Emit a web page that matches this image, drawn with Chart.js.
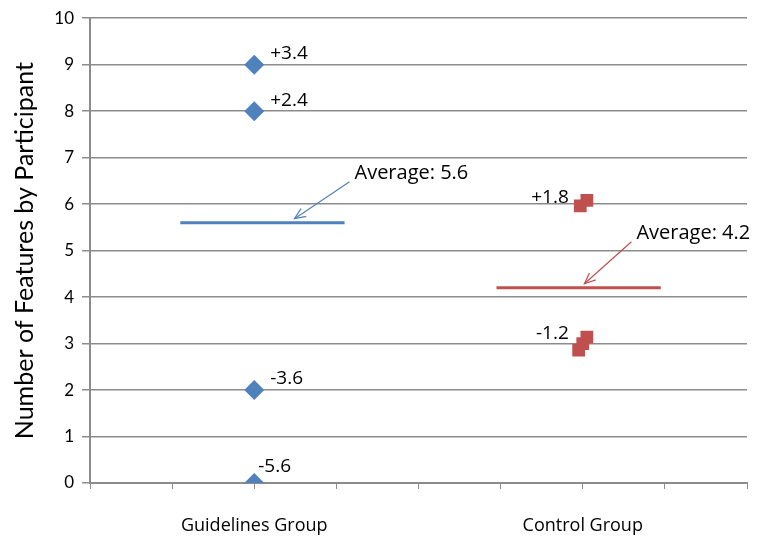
<!DOCTYPE html>
<html>
<head>
<meta charset="utf-8">
<script src="https://cdn.jsdelivr.net/npm/chart.js@4"></script>
<style>
  html, body { margin: 0; padding: 0; background: #fff; }
  #wrap { width: 757px; height: 546px; }
</style>
</head>
<body>
<div id="wrap"><canvas id="chart" width="757" height="546"></canvas></div>
<script>
// categorias y datos
const groupNames = ["Guidelines Group", "Control Group"];
const groupPos = [2, 6];
const averages = [5.6, 4.2];

// puntos de cada grupo (x con un poco de desplazamiento como en el original)
const guidelinesX = [2, 2, 2, 2];
const guidelinesY = [9, 8, 2, 0];
const guidelinesLbl = ["+3.4", "+2.4", "-3.6", "-5.6"];

const controlX = [5.97, 6.05, 5.95, 6.0, 6.05];
const controlY = [5.96, 6.08, 2.86, 3.0, 3.14];
const controlLbl = ["", "+1.8", "", "", "-1.2"];

// tramo de las lineas de promedio (en unidades del eje x)
const avgSpanG = [1.1, 3.1];
const avgSpanC = [4.95, 6.95];

const blue = "#4F81BD";
const red = "#C0504D";
const gray = "#8C8C8C";

// plugin para etiquetas de puntos y flechas de promedio
const notesPlugin = {
  id: "notes",
  afterDatasetsDraw(chart) {
    const ctx = chart.ctx;
    const xs = chart.scales.x, ys = chart.scales.y;
    ctx.save();
    ctx.fillStyle = "#000";
    ctx.font = "19px 'Open Sans'";
    ctx.textBaseline = "middle";

    // etiquetas grupo guias (a la derecha)
    guidelinesY.forEach((v, i) => {
      const px = xs.getPixelForValue(guidelinesX[i]);
      const py = ys.getPixelForValue(v);
      ctx.textAlign = "left";
      if (v === 0) ctx.fillText(guidelinesLbl[i], px + 4, py - 16);
      else ctx.fillText(guidelinesLbl[i], px + 16, py - 11);
    });
    // etiquetas grupo control (a la izquierda)
    controlY.forEach((v, i) => {
      if (!controlLbl[i]) return;
      const px = xs.getPixelForValue(6);
      const py = ys.getPixelForValue(Math.round(v));
      ctx.textAlign = "right";
      ctx.fillText(controlLbl[i], px - 14, v > 5 ? py - 7 : py - 10);
    });

    // flechas y textos de promedio
    const arrows = [
      { avg: averages[0], tipX: 2.49, dx: 55, dy: -37, color: blue },
      { avg: averages[1], tipX: 6.02, dx: 47, dy: -42, color: red },
    ];
    ctx.font = "20px 'Open Sans'";
    arrows.forEach((a) => {
      const tx = xs.getPixelForValue(a.tipX);
      const ty = ys.getPixelForValue(a.avg) - 4;
      const sx = tx + a.dx, sy = ty + a.dy;
      ctx.strokeStyle = a.color;
      ctx.lineWidth = 1.2;
      ctx.beginPath();
      ctx.moveTo(sx, sy);
      ctx.lineTo(tx, ty);
      ctx.stroke();
      const ang = Math.atan2(ty - sy, tx - sx);
      const L = 12;
      ctx.beginPath();
      ctx.moveTo(tx - L * Math.cos(ang - 0.4), ty - L * Math.sin(ang - 0.4));
      ctx.lineTo(tx, ty);
      ctx.lineTo(tx - L * Math.cos(ang + 0.4), ty - L * Math.sin(ang + 0.4));
      ctx.stroke();
      ctx.fillStyle = "#000";
      ctx.textAlign = "left";
      ctx.fillText("Average: " + a.avg.toFixed(1), sx + 5, sy - 8);
    });
    ctx.restore();
  },
};

const ctx = document.getElementById("chart").getContext("2d");

new Chart(ctx, {
  type: "scatter",
  data: {
    datasets: [
      {
        label: "Guidelines",
        data: guidelinesY.map((v, i) => ({ x: guidelinesX[i], y: v })),
        pointStyle: "rectRot",
        pointRadius: 10,
        backgroundColor: blue,
        borderColor: blue,
        borderWidth: 0,
      },
      {
        label: "Control",
        data: controlY.map((v, i) => ({ x: controlX[i], y: v })),
        pointStyle: "rect",
        pointRadius: 9,
        backgroundColor: red,
        borderColor: red,
        borderWidth: 0,
      },
      {
        label: "Avg Guidelines",
        type: "line",
        data: avgSpanG.map((x) => ({ x: x, y: averages[0] })),
        borderColor: blue,
        borderWidth: 3,
        pointRadius: 0,
      },
      {
        label: "Avg Control",
        type: "line",
        data: avgSpanC.map((x) => ({ x: x, y: averages[1] })),
        borderColor: red,
        borderWidth: 3,
        pointRadius: 0,
      },
    ],
  },
  options: {
    responsive: false,
    animation: false,
    layout: { padding: { top: 10, right: 9, left: 10, bottom: 0 } },
    plugins: {
      legend: { display: false },
      tooltip: { enabled: false },
    },
    scales: {
      x: {
        type: "linear",
        min: 0,
        max: 8,
        afterFit(scale) {
          scale.height = 63;
          scale.paddingLeft = 0;
          scale.paddingRight = 0;
        },
        grid: { drawOnChartArea: false, drawTicks: true, tickLength: 6, color: gray },
        border: { color: gray, width: 2 },
        ticks: {
          stepSize: 1,
          autoSkip: false,
          maxRotation: 0,
          padding: 26,
          color: "#000",
          font: { family: "'Open Sans'", size: 18 },
          callback: (v) => {
            const i = groupPos.indexOf(v);
            return i >= 0 ? groupNames[i] : "";
          },
        },
      },
      y: {
        min: 0,
        max: 10,
        afterFit(scale) { scale.width = 80; },
        grid: { color: gray, lineWidth: 1.5, tickLength: 8 },
        border: { color: gray, width: 2 },
        ticks: {
          stepSize: 1,
          padding: 8,
          color: "#000",
          font: { family: "Lato", size: 17 },
        },
        title: {
          display: true,
          text: "Number of Features by Participant",
          color: "#000",
          font: { family: "Lato", size: 25 },
          padding: { top: 0, bottom: 3 },
        },
      },
    },
  },
  plugins: [notesPlugin],
});
</script>
</body>
</html>
